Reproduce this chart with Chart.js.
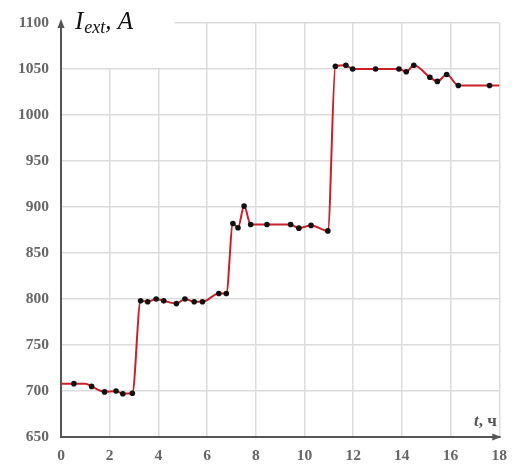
<!DOCTYPE html>
<html>
<head>
<meta charset="utf-8">
<script src="https://cdn.jsdelivr.net/npm/chart.js@4"></script>
<style>
  html, body { margin: 0; padding: 0; background: #fff; }
  #wrap { width: 517px; height: 466px; }
</style>
</head>
<body>
<div id="wrap"><canvas id="chart" width="517" height="466"></canvas></div>
<script>
// time, hours
const hours = [0, 0.53, 1.0, 1.26, 1.79, 2.26, 2.54, 2.93, 3.27, 3.56, 3.91, 4.22, 4.74, 5.09, 5.47, 5.81,
  6.48, 6.79, 7.06, 7.27, 7.52, 7.79, 8.46, 9.43, 9.77, 10.27, 10.96, 11.27, 11.7, 11.98, 12.92,
  13.88, 14.18, 14.49, 15.15, 15.46, 15.84, 16.32, 17.6, 18];
// excitation current, A
const current = [708, 708, 708, 705, 699, 700, 697, 697.5, 798, 797, 800, 798, 795, 800, 797, 797,
  806, 806, 882, 877.5, 901, 881, 881, 881, 877, 880, 874, 1053, 1054, 1050, 1050,
  1050, 1047, 1054, 1041, 1036.5, 1044, 1032, 1032, 1032];
// points of the line without a marker
const unmarked = [0, 2, 39];

const xTicks = [0, 2, 4, 6, 8, 10, 12, 14, 16, 18];
const yTicks = [650, 700, 750, 800, 850, 900, 950, 1000, 1050, 1100];

const points = hours.map((t, i) => ({ x: t, y: current[i] }));

const tickFont = { family: "'Liberation Serif', 'DejaVu Serif', serif", size: 15.5, weight: 'bold' };

// white patch behind the axis title, arrows and axis captions
const decor = {
  id: 'decor',
  beforeDatasetsDraw(chart) {
    const { ctx, scales: { x, y } } = chart;
    ctx.save();
    ctx.fillStyle = '#fff';
    const x0 = x.getPixelForValue(0) + 1.5;
    const x1 = x.getPixelForValue(4.66);
    ctx.fillRect(x0, 0, x1 - x0, y.getPixelForValue(1050) - 1);
    ctx.restore();
  },
  afterDraw(chart) {
    const { ctx, chartArea: a } = chart;
    ctx.save();
    ctx.fillStyle = '#555';
    // y axis arrow
    ctx.beginPath();
    ctx.moveTo(a.left, a.top - 4);
    ctx.lineTo(a.left - 3.5, a.top + 5);
    ctx.lineTo(a.left + 3.5, a.top + 5);
    ctx.closePath();
    ctx.fill();
    // x axis arrow
    ctx.beginPath();
    ctx.moveTo(a.right + 2, a.bottom);
    ctx.lineTo(a.right - 7, a.bottom - 3.5);
    ctx.lineTo(a.right - 7, a.bottom + 3.5);
    ctx.closePath();
    ctx.fill();

    // y caption
    ctx.fillStyle = '#111';
    ctx.textBaseline = 'alphabetic';
    ctx.font = "italic 25px 'Liberation Serif', serif";
    let px = 75;
    ctx.fillText('I', px, 29);
    px += ctx.measureText('I').width + 1;
    ctx.font = "italic 18px 'Liberation Serif', serif";
    ctx.fillText('ext', px, 33);
    px += ctx.measureText('ext').width;
    ctx.font = "italic 25px 'Liberation Serif', serif";
    ctx.fillText(', A', px, 29);

    // x caption
    ctx.fillStyle = '#555';
    ctx.font = "italic bold 17px 'Liberation Serif', serif";
    px = 474;
    ctx.fillText('t', px, 426);
    px += ctx.measureText('t').width;
    ctx.font = "bold 17px 'Liberation Serif', serif";
    ctx.fillText(', ч', px, 426);
    ctx.restore();
  }
};

new Chart(document.getElementById('chart'), {
  type: 'line',
  data: {
    datasets: [{
      data: points,
      borderColor: '#cc1f2a',
      borderWidth: 2,
      cubicInterpolationMode: 'monotone',
      pointBackgroundColor: '#111',
      pointBorderColor: '#111',
      pointRadius: c => unmarked.includes(c.dataIndex) ? 0 : 2.8,
      pointBorderWidth: 0,
      clip: false
    }]
  },
  options: {
    responsive: false,
    animation: false,
    events: [],
    layout: { padding: { top: 23, right: 8, left: 0, bottom: 0 } },
    plugins: { legend: { display: false }, tooltip: { enabled: false } },
    scales: {
      x: {
        type: 'linear',
        min: 0, max: 18,
        afterBuildTicks: s => { s.ticks = xTicks.map(v => ({ value: v })); },
        afterFit: s => { s.height = 29; },
        grid: { color: '#dcdcdc', lineWidth: 1.5, drawTicks: false },
        border: { color: '#555', width: 2 },
        ticks: { font: tickFont, color: '#666', padding: 10, maxRotation: 0, callback: v => String(v) }
      },
      y: {
        min: 650, max: 1100,
        afterBuildTicks: s => { s.ticks = yTicks.map(v => ({ value: v })); },
        afterFit: s => { s.width = 61; },
        grid: { color: '#dcdcdc', lineWidth: 1.5, drawTicks: false },
        border: { color: '#555', width: 2 },
        ticks: { font: tickFont, color: '#666', padding: 12, callback: v => String(v) }
      }
    }
  },
  plugins: [decor]
});
</script>
</body>
</html>
